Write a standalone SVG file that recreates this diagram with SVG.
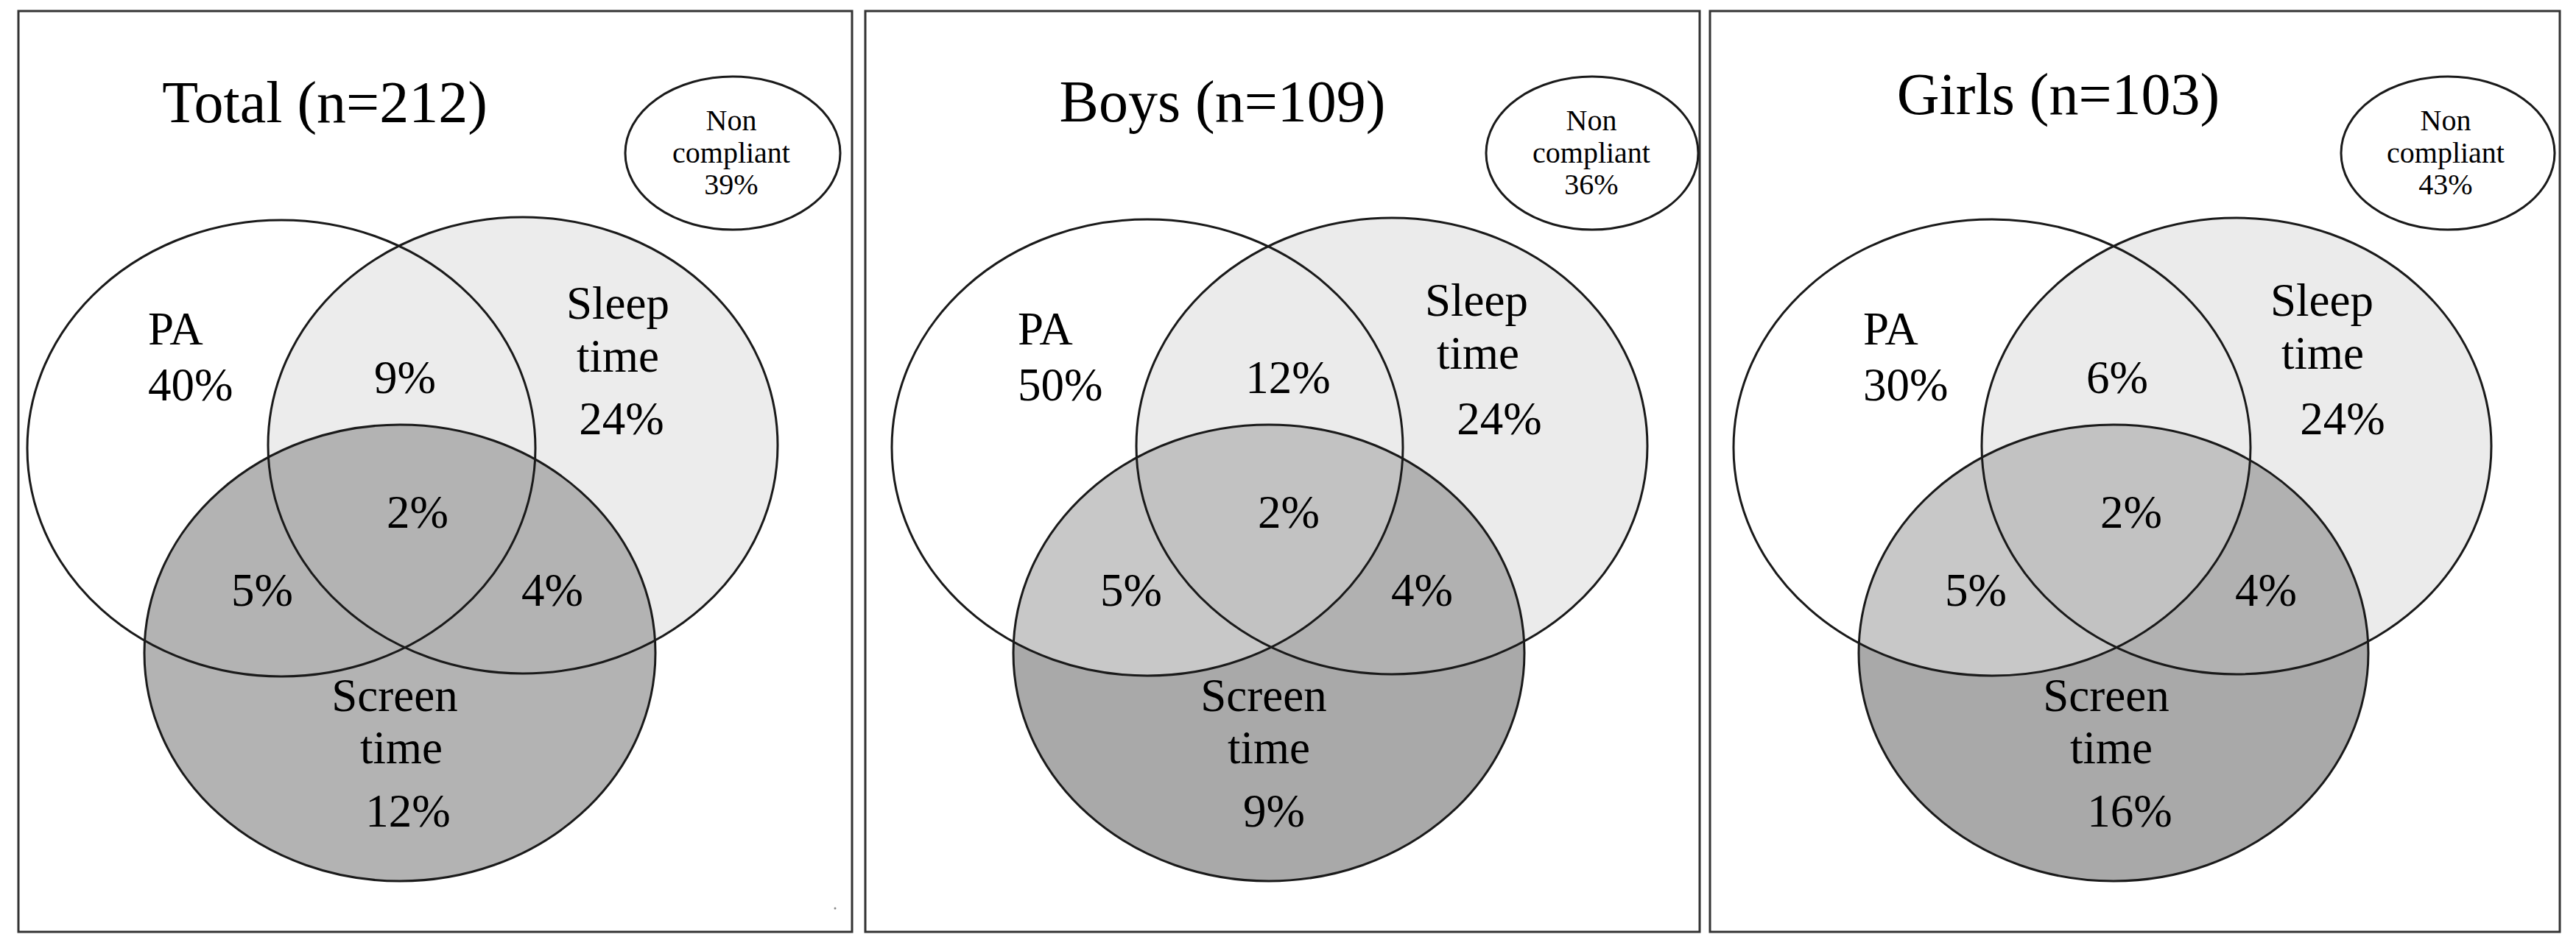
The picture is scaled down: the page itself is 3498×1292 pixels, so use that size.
<svg xmlns="http://www.w3.org/2000/svg" width="3498" height="1292" viewBox="0 0 3498 1292">
<style>
.frame{fill:none;stroke:#333;stroke-width:3}
.ol{fill:none;stroke:#1a1a1a;stroke-width:3}
.t{font-family:"Liberation Serif","Times New Roman",serif;fill:#000}
.lab{font-size:63px}
.ttl{font-size:80px;text-anchor:middle}
.nc{font-size:40px;text-anchor:middle}
.m{text-anchor:middle}
</style>
<defs>
<clipPath id="c2pa"><ellipse cx="1558" cy="608" rx="347" ry="310"/></clipPath>
<clipPath id="c2sl"><ellipse cx="1890" cy="606" rx="347" ry="310"/></clipPath>
<clipPath id="c3pa"><ellipse cx="2705" cy="608" rx="351" ry="310"/></clipPath>
<clipPath id="c3sl"><ellipse cx="3037" cy="606" rx="346" ry="310"/></clipPath>
</defs>
<rect width="3498" height="1292" fill="#fff"/>

<!-- Panel 1: Total -->
<g id="panel-total">
<rect class="frame" x="25" y="15" width="1132" height="1251"/>
<g id="total-fills">
<ellipse cx="382" cy="609" rx="345" ry="310" fill="#fff"/>
<ellipse cx="710" cy="605" rx="346" ry="310" fill="#ececec"/>
<ellipse cx="543" cy="887" rx="347" ry="310" fill="#b3b3b3"/>
</g>
<g id="total-pa"><ellipse class="ol" cx="382" cy="609" rx="345" ry="310"/></g>
<g id="total-sleep"><ellipse class="ol" cx="710" cy="605" rx="346" ry="310"/></g>
<g id="total-screen"><ellipse class="ol" cx="543" cy="887" rx="347" ry="310"/></g>
<g id="total-noncompliant"><ellipse class="ol" cx="995" cy="208" rx="146" ry="104" fill="#fff"/>
<text class="t nc" x="993" y="177">Non</text>
<text class="t nc" x="993" y="221">compliant</text>
<text class="t nc" x="993" y="264">39%</text></g>
<text class="t ttl" x="441" y="166">Total (n=212)</text>
<text class="t lab" x="201" y="468">PA</text>
<text class="t lab" x="201" y="544">40%</text>
<text class="t lab m" x="550" y="534">9%</text>
<text class="t lab m" x="839" y="433">Sleep</text>
<text class="t lab m" x="839" y="505">time</text>
<text class="t lab m" x="844" y="590">24%</text>
<text class="t lab m" x="567" y="717">2%</text>
<text class="t lab m" x="356" y="823">5%</text>
<text class="t lab m" x="750" y="823">4%</text>
<text class="t lab m" x="536" y="966">Screen</text>
<text class="t lab m" x="545" y="1037">time</text>
<text class="t lab m" x="554" y="1123">12%</text>
<circle cx="1134" cy="1234" r="1.5" fill="#888"/>
</g>

<!-- Panel 2: Boys -->
<g id="panel-boys">
<rect class="frame" x="1175" y="15" width="1133" height="1251"/>
<g id="boys-fills">
<ellipse cx="1558" cy="608" rx="347" ry="310" fill="#fff"/>
<ellipse cx="1890" cy="606" rx="347" ry="310" fill="#ebebeb"/>
<ellipse cx="1723" cy="887" rx="347" ry="310" fill="#a9a9a9"/>
<ellipse cx="1723" cy="887" rx="347" ry="310" fill="#c8c8c8" clip-path="url(#c2pa)"/>
<ellipse cx="1723" cy="887" rx="347" ry="310" fill="#b1b1b1" clip-path="url(#c2sl)"/>
<g clip-path="url(#c2sl)"><ellipse cx="1723" cy="887" rx="347" ry="310" fill="#c2c2c2" clip-path="url(#c2pa)"/></g>
</g>
<g id="boys-pa"><ellipse class="ol" cx="1558" cy="608" rx="347" ry="310"/></g>
<g id="boys-sleep"><ellipse class="ol" cx="1890" cy="606" rx="347" ry="310"/></g>
<g id="boys-screen"><ellipse class="ol" cx="1723" cy="887" rx="347" ry="310"/></g>
<g id="boys-noncompliant"><ellipse class="ol" cx="2162" cy="208" rx="144" ry="104" fill="#fff"/>
<text class="t nc" x="2161" y="177">Non</text>
<text class="t nc" x="2161" y="221">compliant</text>
<text class="t nc" x="2161" y="264">36%</text></g>
<text class="t ttl" x="1660" y="165">Boys (n=109)</text>
<text class="t lab" x="1382" y="468">PA</text>
<text class="t lab" x="1382" y="544">50%</text>
<text class="t lab m" x="1749" y="534">12%</text>
<text class="t lab m" x="2005" y="429">Sleep</text>
<text class="t lab m" x="2007" y="501">time</text>
<text class="t lab m" x="2036" y="590">24%</text>
<text class="t lab m" x="1750" y="717">2%</text>
<text class="t lab m" x="1536" y="823">5%</text>
<text class="t lab m" x="1931" y="823">4%</text>
<text class="t lab m" x="1716" y="966">Screen</text>
<text class="t lab m" x="1723" y="1037">time</text>
<text class="t lab m" x="1730" y="1123">9%</text>
</g>

<!-- Panel 3: Girls -->
<g id="panel-girls">
<rect class="frame" x="2322" y="15" width="1154" height="1251"/>
<g id="girls-fills">
<ellipse cx="2705" cy="608" rx="351" ry="310" fill="#fff"/>
<ellipse cx="3037" cy="606" rx="346" ry="310" fill="#ebebeb"/>
<ellipse cx="2870" cy="887" rx="346" ry="310" fill="#a9a9a9"/>
<ellipse cx="2870" cy="887" rx="346" ry="310" fill="#c8c8c8" clip-path="url(#c3pa)"/>
<ellipse cx="2870" cy="887" rx="346" ry="310" fill="#b1b1b1" clip-path="url(#c3sl)"/>
<g clip-path="url(#c3sl)"><ellipse cx="2870" cy="887" rx="346" ry="310" fill="#c2c2c2" clip-path="url(#c3pa)"/></g>
</g>
<g id="girls-pa"><ellipse class="ol" cx="2705" cy="608" rx="351" ry="310"/></g>
<g id="girls-sleep"><ellipse class="ol" cx="3037" cy="606" rx="346" ry="310"/></g>
<g id="girls-screen"><ellipse class="ol" cx="2870" cy="887" rx="346" ry="310"/></g>
<g id="girls-noncompliant"><ellipse class="ol" cx="3324" cy="208" rx="145" ry="104" fill="#fff"/>
<text class="t nc" x="3321" y="177">Non</text>
<text class="t nc" x="3321" y="221">compliant</text>
<text class="t nc" x="3321" y="264">43%</text></g>
<text class="t ttl" x="2795" y="155">Girls (n=103)</text>
<text class="t lab" x="2530" y="468">PA</text>
<text class="t lab" x="2530" y="544">30%</text>
<text class="t lab m" x="2875" y="534">6%</text>
<text class="t lab m" x="3153" y="429">Sleep</text>
<text class="t lab m" x="3154" y="501">time</text>
<text class="t lab m" x="3181" y="590">24%</text>
<text class="t lab m" x="2894" y="717">2%</text>
<text class="t lab m" x="2683" y="823">5%</text>
<text class="t lab m" x="3077" y="823">4%</text>
<text class="t lab m" x="2860" y="966">Screen</text>
<text class="t lab m" x="2867" y="1037">time</text>
<text class="t lab m" x="2892" y="1123">16%</text>
</g>
<g id="connectors"/>
</svg>
